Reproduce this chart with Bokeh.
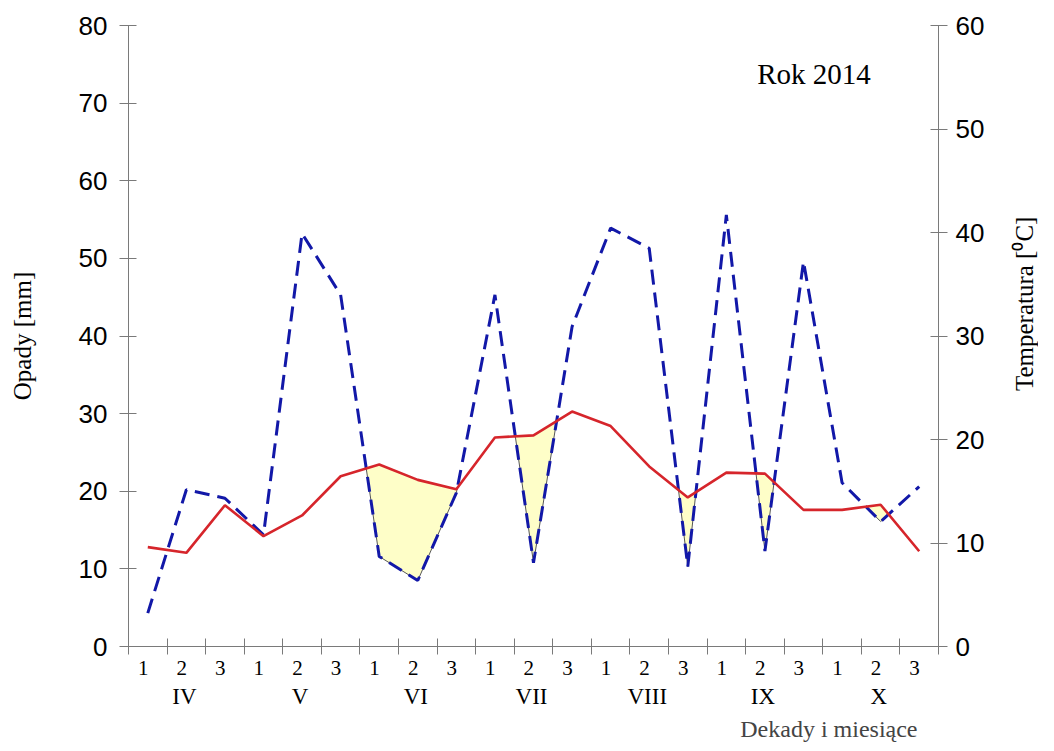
import math
from bokeh.plotting import figure
from bokeh.layouts import row
from bokeh.models import Range1d, LinearAxis, FixedTicker, Label, Title, CustomJSTickFormatter
from bokeh.core.properties import value
from bokeh.embed import file_html
from bokeh.resources import INLINE

# ---- data ----
decade_labels = ["1", "2", "3"] * 7
months = ["IV", "V", "VI", "VII", "VIII", "IX", "X"]
# precipitation per decade [mm] (left axis)
precip = [4.3, 20.2, 19.1, 14.4, 53.2, 45.3, 11.6, 8.5, 19.8, 45.3, 10.8,
          41.2, 53.9, 51.3, 10.3, 55.6, 12.3, 49.6, 21.1, 16.1, 20.6]
# mean temperature per decade [°C] (right axis)
temp = [9.6, 9.05, 13.65, 10.66, 12.66, 16.45, 17.58, 16.1, 15.2, 20.2, 20.4,
        22.7, 21.3, 17.4, 14.4, 16.8, 16.7, 13.2, 13.2, 13.7, 9.2]

n = len(precip)
xs = [i + 0.5 for i in range(n)]
ratio = 80 / 60  # mm per °C in the diagram scale
t_mm = [t * ratio for t in temp]

# ---- drought polygons (precip below scaled temperature) ----
pts = []
for i in range(n):
    pts.append((xs[i], precip[i], t_mm[i]))
    if i < n - 1:
        d0 = t_mm[i] - precip[i]
        d1 = t_mm[i + 1] - precip[i + 1]
        if d0 * d1 < 0:
            f = d0 / (d0 - d1)
            xc = xs[i] + f * (xs[i + 1] - xs[i])
            yc = precip[i] + f * (precip[i + 1] - precip[i])
            pts.append((xc, yc, yc))
runs, cur = [], []
for (x, pp, rr) in pts:
    if rr - pp >= -1e-9:
        cur.append((x, pp, rr))
    else:
        if len(cur) > 1:
            runs.append(cur)
        cur = []
if len(cur) > 1:
    runs.append(cur)
# the original diagram marks drought periods only after the first decade
runs = [r for r in runs if r[0][0] > xs[0]]
poly_x = [[q[0] for q in r] + [q[0] for q in r[::-1]] for r in runs]
poly_y = [[q[2] for q in r] + [q[1] for q in r[::-1]] for r in runs]

# ---- main figure ----
W, H, WT = 995, 743, 43
AX = "#7a7a7a"
p = figure(width=W, height=H, x_range=Range1d(0, n), y_range=Range1d(0, 80),
           output_backend="svg", toolbar_location=None,
           min_border_left=128, min_border_right=57, min_border_top=25, min_border_bottom=96)
p.extra_y_ranges = {"temp": Range1d(0, 60)}
p.grid.visible = False
p.outline_line_color = None
p.background_fill_color = "white"

p.patches(poly_x, poly_y, fill_color="#fefec8", line_color="#555555", line_width=1)
p.line(xs, precip, line_color="#1218a8", line_width=3, line_dash="15 8")
p.line(xs, temp, y_range_name="temp", line_color="#d6252b", line_width=2.6)

# left axis
ya = p.yaxis[0]
ya.ticker = FixedTicker(ticks=list(range(0, 81, 10)), minor_ticks=[])
ya.major_label_text_font = "Liberation Sans"
ya.major_label_text_font_size = "26px"
ya.major_label_text_color = "black"
ya.major_label_standoff = 12
ya.major_tick_in = 8
ya.major_tick_out = 9
ya.minor_tick_line_color = None
ya.axis_line_color = AX
ya.major_tick_line_color = AX
ya.axis_label = "Opady [mm]"
ya.axis_label_text_font = "Liberation Serif"
ya.axis_label_text_font_size = "25px"
ya.axis_label_text_font_style = "normal"
ya.axis_label_text_color = "black"
ya.axis_label_standoff = 40

# right axis (ticks and numbers)
yr = LinearAxis(y_range_name="temp", ticker=FixedTicker(ticks=list(range(0, 61, 10)), minor_ticks=[]))
yr.major_label_text_font = "Liberation Sans"
yr.major_label_text_font_size = "26px"
yr.major_label_text_color = "black"
yr.major_label_standoff = 8
yr.major_tick_in = 8
yr.major_tick_out = 9
yr.minor_tick_line_color = None
yr.axis_line_color = AX
yr.major_tick_line_color = AX
p.add_layout(yr, "right")

# bottom axis: decades (labels sit slightly left of the decade centres, as in the original)
xa = p.xaxis[0]
xa.ticker = FixedTicker(ticks=[x - 0.12 for x in xs], minor_ticks=list(range(0, n + 1)))
xa.formatter = CustomJSTickFormatter(args=dict(labels=decade_labels),
                                     code="return labels[Math.floor(tick)];")
xa.major_label_text_font = "Liberation Serif"
xa.major_label_text_font_size = "21px"
xa.major_label_text_color = "black"
xa.major_label_standoff = 6
xa.major_tick_in = 0
xa.major_tick_out = 0
xa.minor_tick_in = 8
xa.minor_tick_out = 8
xa.axis_line_color = AX
xa.minor_tick_line_color = AX

# months axis
month_centers = [1.45 + 3 * k for k in range(len(months))]
xm = LinearAxis(ticker=FixedTicker(ticks=month_centers, minor_ticks=[]))
xm.formatter = CustomJSTickFormatter(args=dict(months=months),
                                     code="return months[Math.round((tick - 1.45) / 3)];")
xm.major_label_text_font = "Liberation Serif"
xm.major_label_text_font_size = "23px"
xm.major_label_text_color = "black"
xm.major_label_standoff = 6
xm.major_tick_in = 0
xm.major_tick_out = 0
xm.minor_tick_line_color = None
xm.axis_line_color = None
p.add_layout(xm, "below")

p.add_layout(Title(text="Dekady i miesiące", align="right", text_font="Liberation Serif",
                   text_font_size="24px", text_font_style="normal", offset=21, standoff=4), "below")

p.add_layout(Label(x=16.3, y=73.8, text="Rok 2014", text_font="Liberation Serif",
                   text_font_size="29px", text_baseline="middle", text_color="black"))

# ---- narrow strip carrying the right axis title (reads bottom-to-top, above centre) ----
pt = figure(width=WT, height=H, x_range=Range1d(0, WT), y_range=Range1d(0, H),
            output_backend="svg", toolbar_location=None, min_border=0)
pt.axis.visible = False
pt.grid.visible = False
pt.outline_line_color = None
pt.text(x=[WT - 14], y=[H - 333], text=["Temperatura [⁰C]"], angle=math.pi / 2,
        text_align="center", text_baseline="middle", text_color="black",
        text_font=value("Liberation Serif"), text_font_size="25px")

layout = row(p, pt, spacing=0)
open("out.html", "w").write(file_html(layout, INLINE))
